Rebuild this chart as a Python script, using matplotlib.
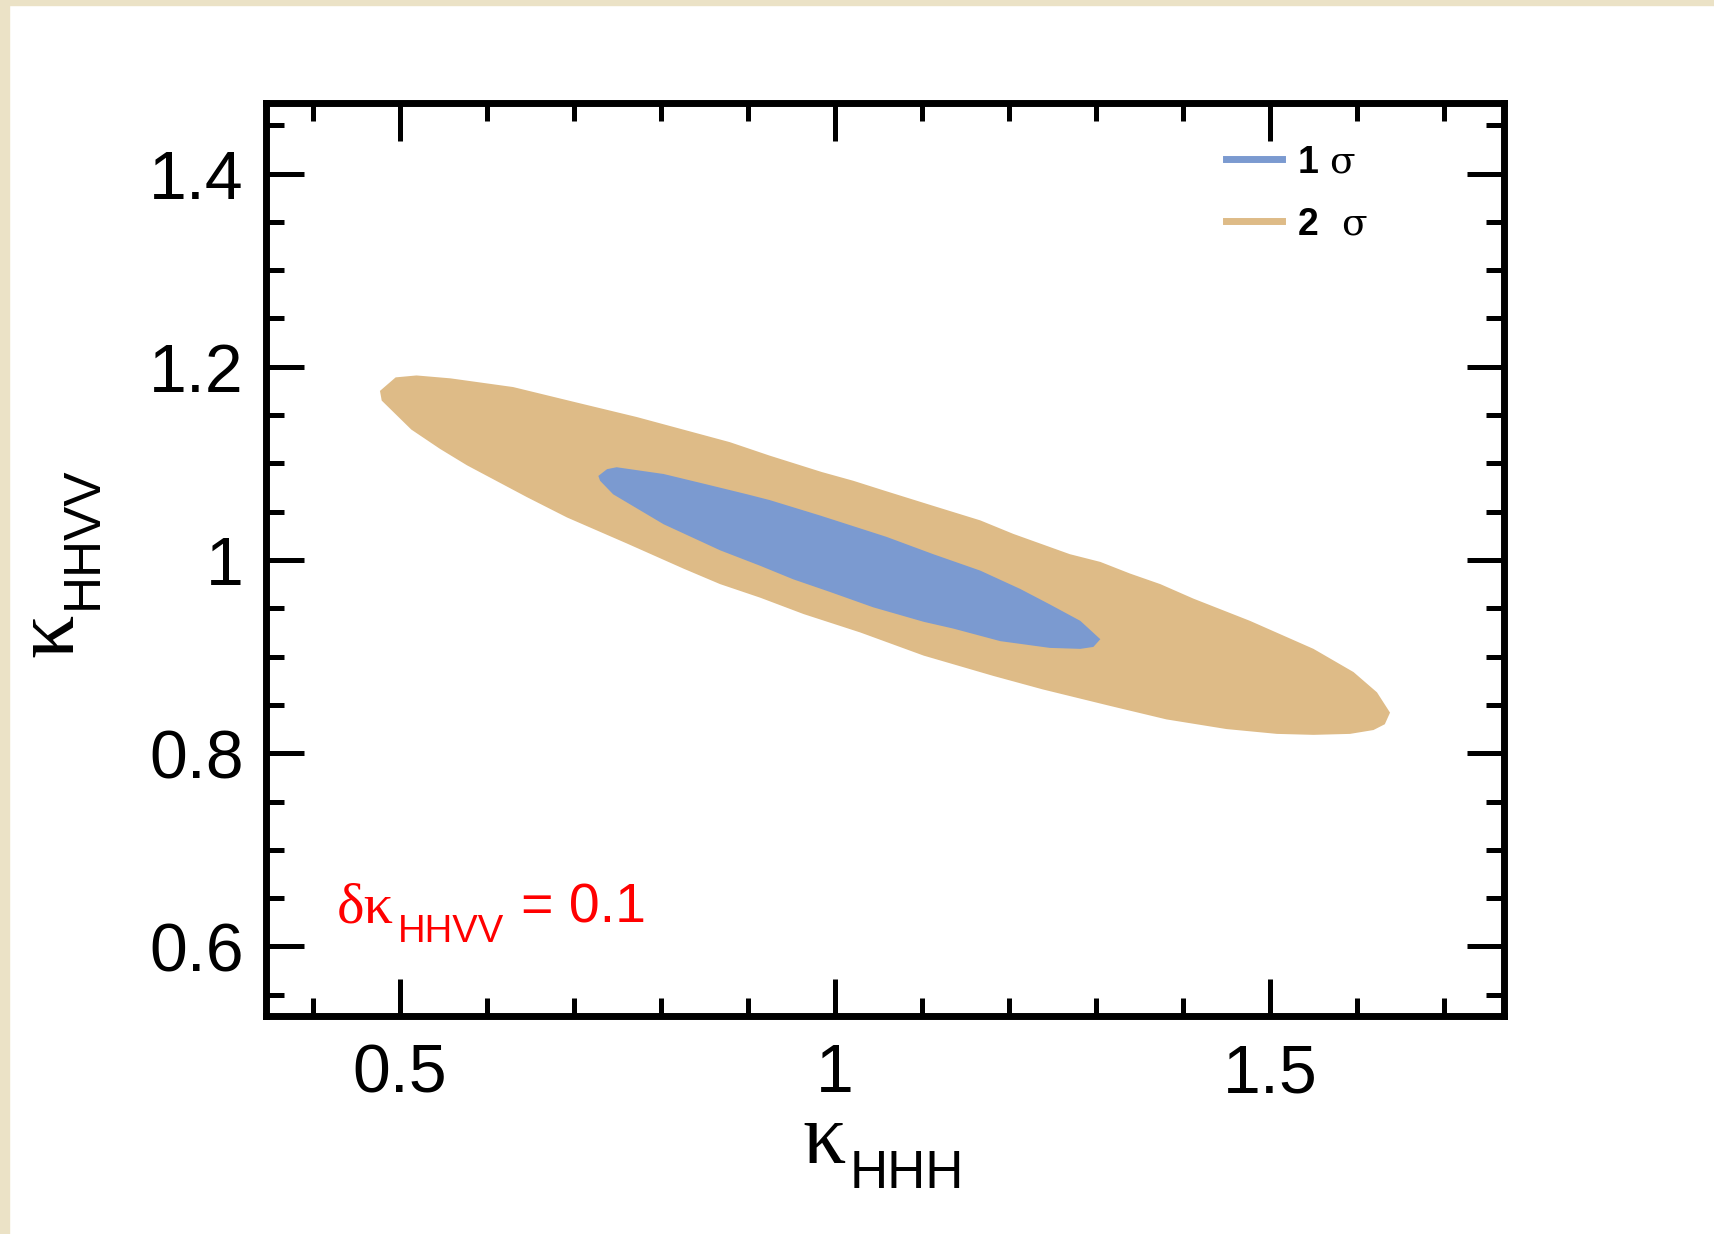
"""
Confidence regions in the (kappa_HHH, kappa_HHVV) plane, 1 and 2 sigma.
"""

import matplotlib
matplotlib.use('Agg')
from matplotlib import pyplot
from matplotlib.patches import Rectangle
from matplotlib.ticker import MultipleLocator, FixedLocator

# 2 sigma region outline (kappa_HHH, kappa_HHVV).
sigma2_x = [0.477, 0.495, 0.519, 0.558, 0.630, 0.703, 0.772, 0.879, 0.925,
            0.985, 1.021, 1.056, 1.113, 1.167, 1.205, 1.270, 1.305, 1.339,
            1.374, 1.412, 1.477, 1.550, 1.596, 1.623, 1.638, 1.632, 1.619,
            1.592, 1.550, 1.508, 1.450, 1.381, 1.316, 1.239, 1.182, 1.102,
            1.029, 0.964, 0.914, 0.868, 0.826, 0.761, 0.692, 0.646, 0.577,
            0.546, 0.513, 0.479]
sigma2_y = [1.175, 1.189, 1.191, 1.188, 1.179, 1.163, 1.148, 1.122, 1.108,
            1.091, 1.082, 1.072, 1.056, 1.041, 1.027, 1.006, 0.998, 0.986,
            0.975, 0.960, 0.937, 0.908, 0.884, 0.863, 0.842, 0.830, 0.824,
            0.820, 0.819, 0.820, 0.825, 0.835, 0.849, 0.866, 0.880, 0.901,
            0.925, 0.944, 0.961, 0.975, 0.991, 1.017, 1.044, 1.065, 1.098,
            1.115, 1.135, 1.165]

# 1 sigma region outline.
sigma1_x = [0.728, 0.738, 0.749, 0.803, 0.849, 0.899, 0.925, 0.983, 1.059,
            1.113, 1.167, 1.213, 1.247, 1.282, 1.305, 1.297, 1.282, 1.247,
            1.190, 1.136, 1.102, 1.044, 0.994, 0.952, 0.914, 0.868, 0.803,
            0.745, 0.730]
sigma1_y = [1.087, 1.094, 1.096, 1.089, 1.079, 1.068, 1.062, 1.046, 1.024,
            1.006, 0.989, 0.970, 0.954, 0.937, 0.918, 0.910, 0.908, 0.909,
            0.916, 0.929, 0.936, 0.951, 0.967, 0.980, 0.994, 1.010, 1.037,
            1.068, 1.082]

x_ticks = [0.5, 1.0, 1.5]
x_ticklabels = ['0.5', '1', '1.5']
y_ticks = [0.6, 0.8, 1.0, 1.2, 1.4]
y_ticklabels = ['0.6', '0.8', '1', '1.2', '1.4']

blue = '#7b9ad0'
tan = '#debb87'
serif = 'Liberation Serif'
sans = 'Liberation Sans'

pyplot.rc('font', family=sans)
pyplot.rc('mathtext', fontset='custom', rm=serif, it='DejaVu Serif',
          sf=sans, bf='Liberation Sans:bold')

fig = pyplot.figure(figsize=(17.14, 12.34), dpi=100)
# beige frame strips on the left and top
fig.patches.append(Rectangle((0, 0), 9 / 1714, 1, transform=fig.transFigure,
                             color='#ebe2c6', zorder=0))
fig.patches.append(Rectangle((0, 1 - 5 / 1234), 1, 5 / 1234,
                             transform=fig.transFigure, color='#ebe2c6',
                             zorder=0))

ax = fig.add_axes([266 / 1714, 1 - 1016 / 1234, 1238 / 1714, 913 / 1234])
ax.fill(sigma2_x, sigma2_y, color=tan, lw=0)
ax.fill(sigma1_x, sigma1_y, color=blue, lw=0)
ax.plot([], [], color=blue, lw=5, label=r'$\mathbf{1}\ \sigma$')
ax.plot([], [], color=tan, lw=5, label=r'$\mathbf{2}\ \ \sigma$')

ax.set_xlim(0.346, 1.769)
ax.set_ylim(0.528, 1.473)
ax.xaxis.set_major_locator(FixedLocator(x_ticks))
ax.set_xticklabels(x_ticklabels)
ax.yaxis.set_major_locator(FixedLocator(y_ticks))
ax.set_yticklabels(y_ticklabels)
ax.xaxis.set_minor_locator(MultipleLocator(0.1))
ax.yaxis.set_minor_locator(MultipleLocator(0.05))
ax.tick_params(which='both', direction='in', top=True, right=True,
               width=3.6, labelsize=49, color='black')
ax.tick_params(which='major', length=27)
ax.tick_params(which='minor', length=13)
ax.tick_params(axis='y', pad=16)
ax.tick_params(axis='x', pad=19)
for spine in ax.spines.values():
    spine.set_linewidth(5)

# axis labels: serif kappa with a sans-serif subscript
kw = dict(transform=ax.transAxes, va='baseline', clip_on=False)
ax.text(0.4685, -0.161, '\u03ba', family=serif, fontsize=62, ha='right', **kw)
ax.text(0.4717, -0.1884, 'HHH', family=sans, fontsize=38, ha='left', **kw)
ax.text(-0.1567, 0.4403, '\u03ba', family=serif, fontsize=62, ha='right',
        rotation=90, rotation_mode='anchor', **kw)
ax.text(-0.1365, 0.4458, 'HHVV', family=sans, fontsize=37, ha='left',
        rotation=90, rotation_mode='anchor', **kw)

# annotation
ax.text(0.0574, 0.1019, '\u03b4\u03ba', family=serif, fontsize=42,
        color='red', ha='left', **kw)
ax.text(0.1066, 0.0810, 'HHVV', family=sans, fontsize=27.5, color='red',
        ha='left', **kw)
ax.text(0.2060, 0.1019, '= 0.1', family=sans, fontsize=40, color='red',
        ha='left', **kw)

ax.legend(loc='upper left', bbox_to_anchor=(0.76, 0.975), frameon=False,
          fontsize=27, handlelength=1.5, handletextpad=0.4,
          labelspacing=0.68, borderpad=0)

fig.savefig('out.png', dpi=100)
